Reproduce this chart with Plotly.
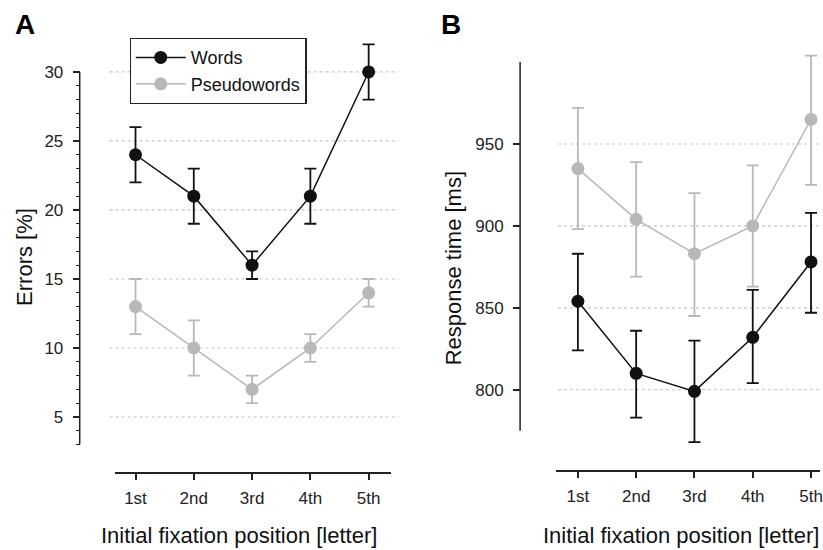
import plotly.graph_objects as go

# ---------------- data ----------------
positions = [1, 2, 3, 4, 5]
position_labels = ["1st", "2nd", "3rd", "4th", "5th"]

# Panel A: errors [%]
err_words = [24, 21, 16, 21, 30]
err_words_hi = [26, 23, 17, 23, 32]
err_words_lo = [22, 19, 15, 19, 28]
err_pseudo = [13, 10, 7, 10, 14]
err_pseudo_hi = [15, 12, 8, 11, 15]
err_pseudo_lo = [11, 8, 6, 9, 13]

# Panel B: response time [ms]
rt_words = [854, 810, 799, 832, 878]
rt_words_hi = [883, 836, 830, 861, 908]
rt_words_lo = [824, 783, 768, 804, 847]
rt_pseudo = [935, 904, 883, 900, 965]
rt_pseudo_hi = [972, 939, 920, 937, 1004]
rt_pseudo_lo = [898, 869, 845, 863, 925]

err_ticks = [5, 10, 15, 20, 25, 30]
err_minor = list(range(3, 31))
rt_ticks = [800, 850, 900, 950]

W, H = 823, 550
BLACK = "#111111"
GREY = "#b8b8b8"
FONT = "Liberation Sans, Arial, sans-serif"


def px_x(p):
    return p / W


def px_y(p):
    return (H - p) / H


def up(hi, m):
    return [h - v for h, v in zip(hi, m)]


def dn(lo, m):
    return [v - l for l, v in zip(lo, m)]


fig = go.Figure()


def add_series(x, y, hi, lo, color, name, xa, ya, showlegend):
    fig.add_trace(go.Scatter(
        x=x, y=y, mode="lines+markers", name=name,
        line=dict(color=color, width=1.5),
        marker=dict(color=color, size=13),
        error_y=dict(type="data", symmetric=False,
                     array=up(hi, y), arrayminus=dn(lo, y),
                     color=color, thickness=1.8, width=6),
        xaxis=xa, yaxis=ya, showlegend=showlegend, cliponaxis=False,
    ))


add_series(positions, err_words, err_words_hi, err_words_lo, BLACK, "Words", "x", "y", True)
add_series(positions, err_pseudo, err_pseudo_hi, err_pseudo_lo, GREY, "Pseudowords", "x", "y", True)
add_series(positions, rt_pseudo, rt_pseudo_hi, rt_pseudo_lo, GREY, "Pseudowords", "x2", "y2", False)
add_series(positions, rt_words, rt_words_hi, rt_words_lo, BLACK, "Words", "x2", "y2", False)

tickfont = dict(family=FONT, size=17, color="#222222")

common_x = dict(
    tickvals=positions, ticktext=position_labels, showgrid=False, zeroline=False,
    showline=True, linecolor="#222222", linewidth=1.5,
    ticks="outside", ticklen=6, tickwidth=1.5, tickcolor="#222222",
    tickfont=tickfont, ticklabeloverflow="allow", ticklabelstandoff=4,
)
common_y = dict(
    showgrid=False, zeroline=False, showline=False,
    ticks="outside", ticklen=7, tickwidth=1.5, tickcolor="#222222",
    tickfont=tickfont, ticklabelstandoff=6, anchor="free",
)

fig.update_layout(
    width=W, height=H,
    margin=dict(l=0, r=0, t=0, b=0),
    paper_bgcolor="white", plot_bgcolor="white",
    font=dict(family=FONT, color="#111111"),
    xaxis=dict(domain=[px_x(115), px_x(392)], range=[0.641, 5.376], anchor="y", **common_x),
    yaxis=dict(domain=[px_y(472), px_y(30)], range=[1.014, 33.04],
               tickvals=err_ticks, position=px_x(80),
               minor=dict(tickvals=err_minor, ticks="outside", ticklen=4,
                          tickwidth=1.2, tickcolor="#222222"),
               **common_y),
    xaxis2=dict(domain=[px_x(558), 1.0], range=[0.624, 5.154], anchor="y2", **common_x),
    yaxis2=dict(domain=[px_y(470), px_y(30)], range=[751.0, 1019.6],
                tickvals=rt_ticks, position=px_x(522), **common_y),
    legend=dict(x=px_x(130), y=px_y(38), xanchor="left", yanchor="top",
                bordercolor="#222222", borderwidth=1.2, bgcolor="white",
                font=dict(family=FONT, size=18, color="#111111"),
                tracegroupgap=0, itemwidth=50),
)

shapes = []
# dotted grid lines
for v in err_ticks:
    shapes.append(dict(type="line", xref="paper", yref="y", x0=px_x(110), x1=px_x(400),
                       y0=v, y1=v, line=dict(color="#c4c4c4", width=1.2, dash="dot"), layer="below"))
for v in rt_ticks:
    shapes.append(dict(type="line", xref="paper", yref="y2", x0=px_x(560), x1=1.0,
                       y0=v, y1=v, line=dict(color="#c4c4c4", width=1.2, dash="dot"), layer="below"))
# y axis lines (limited extent, R style)
shapes.append(dict(type="line", xref="paper", yref="y", x0=px_x(80), x1=px_x(80),
                   y0=err_minor[0], y1=err_minor[-1], line=dict(color="#222222", width=1.5)))
shapes.append(dict(type="line", xref="paper", yref="y2", x0=px_x(522), x1=px_x(522),
                   y0=775, y1=1000, line=dict(color="#222222", width=1.5)))
fig.update_layout(shapes=shapes)

title_font = dict(family=FONT, size=22, color="#111111")
annotations = [
    dict(text="Initial fixation position [letter]", x=px_x(240), y=px_y(535), xref="paper", yref="paper",
         showarrow=False, font=title_font, xanchor="center", yanchor="middle"),
    dict(text="Initial fixation position [letter]", x=px_x(683), y=px_y(535), xref="paper", yref="paper",
         showarrow=False, font=title_font, xanchor="center", yanchor="middle"),
    dict(text="Errors [%]", x=px_x(24), y=px_y(257), xref="paper", yref="paper", textangle=-90,
         showarrow=False, font=title_font, xanchor="center", yanchor="middle"),
    dict(text="Response time [ms]", x=px_x(455), y=px_y(268), xref="paper", yref="paper", textangle=-90,
         showarrow=False, font=title_font, xanchor="center", yanchor="middle"),
    dict(text="<b>A</b>", x=px_x(25), y=px_y(25), xref="paper", yref="paper",
         showarrow=False, font=dict(family=FONT, size=28, color="#000000"), xanchor="center", yanchor="middle"),
    dict(text="<b>B</b>", x=px_x(453), y=px_y(25), xref="paper", yref="paper",
         showarrow=False, font=dict(family=FONT, size=28, color="#000000"), xanchor="center", yanchor="middle"),
]
fig.update_layout(annotations=annotations)

fig.write_html("out.html")
